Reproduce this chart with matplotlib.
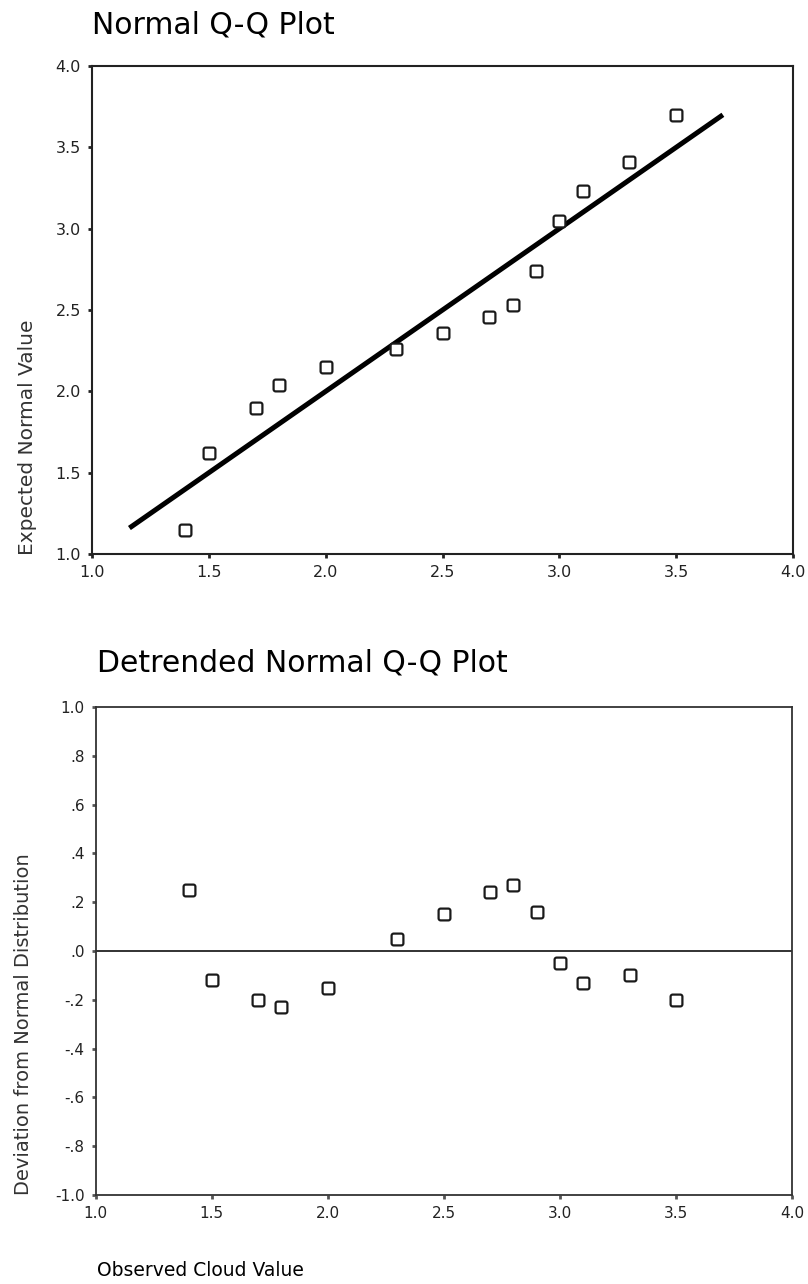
import numpy as np
import matplotlib
matplotlib.use('Agg')
import matplotlib.pyplot as plt
from matplotlib.path import Path
from matplotlib.ticker import FixedLocator

observed = [1.4, 1.5, 1.7, 1.8, 2.0, 2.3, 2.5, 2.7, 2.8, 2.9, 3.0, 3.1, 3.3, 3.5]
expected = [1.15, 1.62, 1.90, 2.04, 2.15, 2.26, 2.36, 2.46, 2.53, 2.74, 3.05, 3.23, 3.41, 3.70]
deviation = [0.25, -0.12, -0.20, -0.23, -0.15, 0.05, 0.15, 0.24, 0.27, 0.16,
             -0.05, -0.13, -0.10, -0.20]

# reference line of the Q-Q plot
ref_line = [1.16, 3.70]

qq_ticks = [1.0, 1.5, 2.0, 2.5, 3.0, 3.5, 4.0]
qq_labels = ['1.0', '1.5', '2.0', '2.5', '3.0', '3.5', '4.0']
dev_ticks = [1.0, 0.8, 0.6, 0.4, 0.2, 0.0, -0.2, -0.4, -0.6, -0.8, -1.0]
dev_labels = ['1.0', '.8', '.6', '.4', '.2', '.0', '-.2', '-.4', '-.6', '-.8', '-1.0']

plt.rcParams['font.family'] = ['DejaVu Sans']


def rounded_square(r=0.35, n=8):
    # square marker with rounded corners, like the SPSS symbols
    pts = []
    for cx, cy, a0 in [(1 - r, 1 - r, 0), (-1 + r, 1 - r, 90), (-1 + r, -1 + r, 180), (1 - r, -1 + r, 270)]:
        for a in np.linspace(a0, a0 + 90, n):
            t = np.deg2rad(a)
            pts.append((cx + r * np.cos(t), cy + r * np.sin(t)))
    pts.append(pts[0])
    codes = [Path.MOVETO] + [Path.LINETO] * (len(pts) - 2) + [Path.CLOSEPOLY]
    return Path(pts, codes)


fig = plt.figure(figsize=(8.08, 12.84), dpi=100)
ax1 = fig.add_axes([0.1139, 0.5685, 0.8675, 0.3801])
ax2 = fig.add_axes([0.1184, 0.0693, 0.8618, 0.3801])

marker_style = dict(linestyle='none', marker=rounded_square(), markersize=8.5, markerfacecolor='white',
                    markeredgecolor='#1a1a1a', markeredgewidth=1.6)

# Normal Q-Q plot
ax1.plot(ref_line, ref_line, color='black', linewidth=3.6, solid_capstyle='butt')
ax1.plot(observed, expected, **marker_style)
ax1.set_xlim(1.0, 4.0)
ax1.set_ylim(1.0, 4.0)
ax1.xaxis.set_major_locator(FixedLocator(qq_ticks))
ax1.yaxis.set_major_locator(FixedLocator(qq_ticks))
ax1.set_xticklabels(qq_labels)
ax1.set_yticklabels(qq_labels)
for s in ax1.spines.values():
    s.set_linewidth(1.5)
    s.set_color('#222222')
ax1.tick_params(direction='out', length=3, width=2, labelsize=11.5, pad=5, color='#222222',
                labelcolor='#222222')
fig.text(0.034, 1 - 555 / 1284, 'Expected Normal Value', fontsize=14.5, rotation=90,
         ha='center', va='bottom', color='#333333')
fig.text(0.1139, 0.9805, 'Normal Q-Q Plot', fontsize=21.5, ha='left', va='center')

# Detrended Normal Q-Q plot
ax2.axhline(0.0, color='#222222', linewidth=1.3)
ax2.plot(observed, deviation, **marker_style)
ax2.set_xlim(1.0, 4.0)
ax2.set_ylim(-1.0, 1.0)
ax2.xaxis.set_major_locator(FixedLocator(qq_ticks))
ax2.yaxis.set_major_locator(FixedLocator(dev_ticks))
ax2.set_xticklabels(qq_labels)
ax2.set_yticklabels(dev_labels)
for s in ax2.spines.values():
    s.set_linewidth(1.3)
    s.set_color('#333333')
ax2.tick_params(direction='out', length=3, width=2, labelsize=11, pad=5, color='#555555',
                labelcolor='#222222')
fig.text(0.029, 1 - 1195 / 1284, 'Deviation from Normal Distribution', fontsize=14, rotation=90,
         ha='center', va='bottom', color='#333333')
fig.text(0.1200, 0.4836, 'Detrended Normal Q-Q Plot', fontsize=21.5, ha='left', va='center')
fig.text(0.1200, 0.0109, 'Observed Cloud Value', fontsize=13.5, ha='left', va='center')

fig.savefig('out.png', dpi=100, facecolor='white')
